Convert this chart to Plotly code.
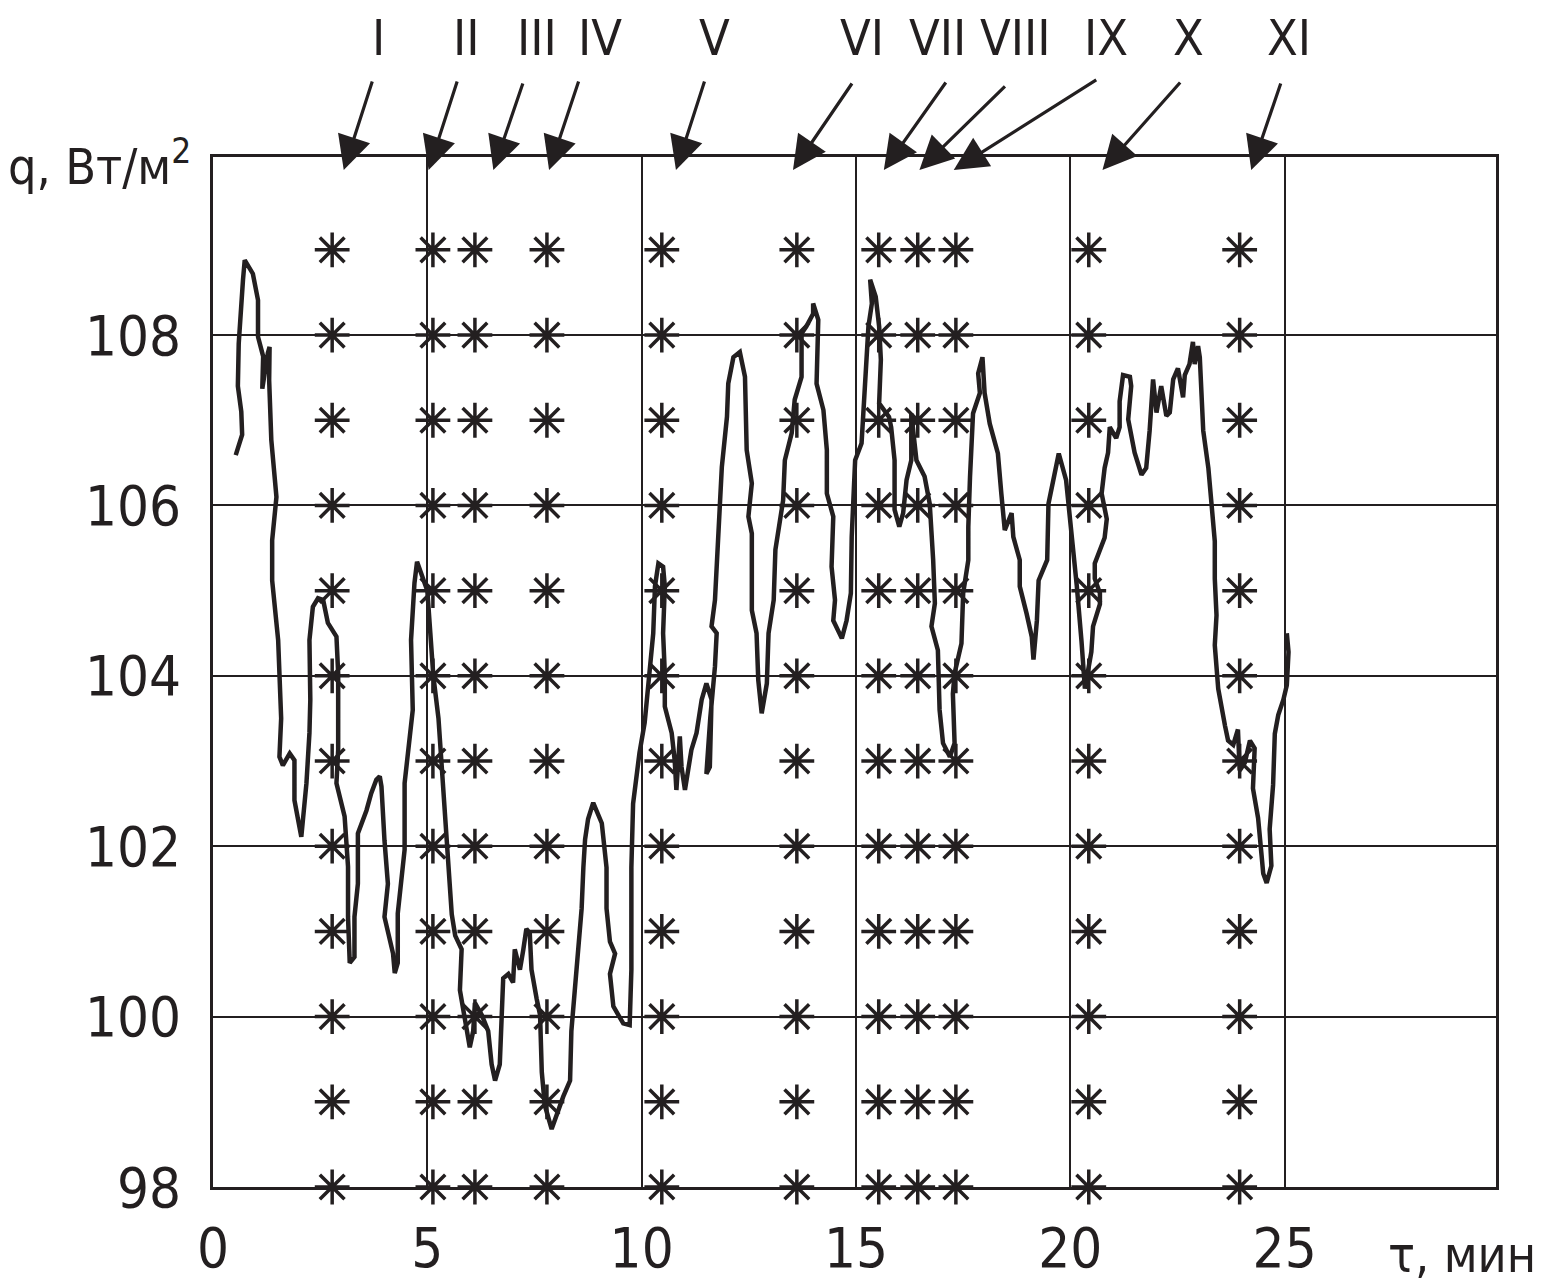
import plotly.graph_objects as go

INK = "#231f20"
FONT = "DejaVu Sans Condensed, Liberation Sans Narrow, Arial Narrow, sans-serif"

# heat-flux curve q(tau), tau in minutes, q in W/m2
tau = [0.53,0.68,0.66,0.58,0.60,0.64,0.70,0.74,0.93,1.05,1.05,1.17,1.15,1.28,1.32,1.31,1.36,1.48,1.38,1.38,1.52,1.59,1.55,1.63,1.79,1.90,1.90,2.06,2.18,2.25,2.27,2.25,2.33,2.45,2.57,2.68,2.88,2.92,2.92,2.88,3.07,3.15,3.15,3.19,3.30,3.30,3.38,3.38,3.58,3.69,3.81,3.89,3.93,4.00,4.08,4.00,4.20,4.24,4.31,4.31,4.47,4.47,4.59,4.66,4.62,4.70,4.76,4.86,5.00,5.07,5.14,5.26,5.33,5.41,5.48,5.57,5.65,5.80,5.76,5.88,5.99,6.07,6.11,6.27,6.42,6.50,6.58,6.69,6.73,6.77,6.89,7.00,7.04,7.16,7.24,7.31,7.39,7.43,7.55,7.63,7.67,7.74,7.90,8.09,8.17,8.33,8.36,8.44,8.52,8.60,8.64,8.68,8.75,8.87,9.07,9.18,9.18,9.26,9.38,9.26,9.34,9.57,9.72,9.76,9.76,9.80,9.95,10.07,10.15,10.27,10.31,10.39,10.50,10.54,10.50,10.54,10.54,10.70,10.77,10.81,10.89,10.93,11.01,11.16,11.28,11.40,11.51,11.63,11.59,11.51,11.60,11.71,11.75,11.63,11.71,11.79,11.87,11.99,12.02,12.14,12.29,12.41,12.45,12.57,12.49,12.57,12.57,12.68,12.72,12.80,12.92,12.96,13.08,13.12,13.30,13.34,13.50,13.57,13.73,13.73,13.84,14.00,14.00,14.12,14.08,14.24,14.32,14.32,14.47,14.43,14.51,14.47,14.67,14.78,14.88,14.90,14.94,14.98,15.13,15.21,15.29,15.37,15.33,15.46,15.54,15.58,15.54,15.77,15.82,15.90,15.90,16.01,16.10,16.18,16.29,16.29,16.33,16.41,16.60,16.72,16.80,16.84,16.76,16.91,16.95,17.03,17.19,17.30,17.26,17.30,17.46,17.50,17.62,17.62,17.66,17.73,17.89,17.85,17.95,18.00,18.12,18.31,18.39,18.47,18.63,18.67,18.82,18.82,18.98,19.10,19.14,19.22,19.26,19.46,19.49,19.61,19.73,19.90,20.04,20.15,20.26,20.34,20.49,20.53,20.69,20.69,20.57,20.57,20.80,20.85,20.73,20.80,20.88,20.92,21.07,21.15,21.15,21.23,21.39,21.42,21.35,21.50,21.66,21.77,21.85,21.93,22.01,22.12,22.24,22.32,22.40,22.51,22.63,22.67,22.78,22.86,22.90,22.98,23.02,23.06,23.10,23.22,23.29,23.37,23.37,23.41,23.37,23.45,23.61,23.68,23.80,23.91,23.95,24.07,24.19,24.30,24.26,24.38,24.46,24.50,24.58,24.69,24.65,24.73,24.77,24.85,24.97,25.05,25.09,25.05]
q = [106.59,106.83,107.10,107.40,107.90,108.30,108.65,108.88,108.72,108.41,107.98,107.75,107.37,107.79,107.86,107.47,106.77,106.10,105.59,105.12,104.42,103.50,103.05,102.95,103.09,103.01,102.54,102.11,102.74,103.33,103.72,104.42,104.81,104.91,104.89,104.62,104.46,104.03,103.13,102.74,102.35,101.76,101.17,100.63,100.70,101.17,101.56,102.15,102.42,102.62,102.78,102.82,102.70,102.07,101.56,101.17,100.74,100.51,100.63,101.21,101.96,102.74,103.33,103.60,104.42,105.09,105.34,105.20,105.00,104.50,104.00,103.50,103.00,102.30,101.80,101.20,100.95,100.79,100.31,99.92,99.64,99.83,100.16,100.02,99.83,99.44,99.25,99.44,100.07,100.45,100.50,100.40,100.79,100.55,100.79,101.03,100.98,100.55,100.21,100.02,99.35,98.96,98.68,98.96,99.06,99.25,99.83,100.31,100.79,101.27,101.75,102.08,102.32,102.51,102.27,101.75,101.27,100.88,100.74,100.50,100.12,99.92,99.90,100.55,101.75,102.50,103.10,103.45,103.87,104.50,105.05,105.32,105.28,105.05,104.50,104.03,103.64,103.33,103.01,102.66,103.29,102.93,102.66,103.13,103.33,103.72,103.91,103.72,102.93,102.85,103.50,104.11,104.50,104.58,104.89,105.67,106.45,107.04,107.43,107.74,107.80,107.51,106.65,106.26,105.87,105.67,104.77,104.50,103.95,103.56,103.91,104.50,104.89,105.48,106.06,106.53,106.85,107.24,107.51,108.02,108.10,108.25,108.37,108.18,107.43,107.12,106.65,106.14,105.87,105.28,104.89,104.65,104.44,104.65,104.97,105.63,106.14,106.53,106.73,107.32,108.10,108.37,108.65,108.45,108.10,107.71,107.20,107.04,106.92,106.53,105.95,105.75,105.91,106.30,106.53,107.08,106.92,106.53,106.34,106.02,105.36,104.85,104.58,104.30,103.60,103.21,103.05,103.21,103.79,104.03,104.38,104.97,105.36,105.75,106.34,107.08,107.32,107.55,107.74,107.32,106.96,106.61,106.14,105.71,105.91,105.63,105.36,105.05,104.73,104.46,104.19,104.65,105.12,105.36,106.02,106.34,106.61,106.30,105.66,105.06,104.41,103.85,104.28,104.58,104.84,104.97,105.14,105.32,105.62,105.84,106.14,106.44,106.62,106.92,106.79,106.92,107.22,107.53,107.51,107.40,107.01,106.62,106.36,106.44,106.88,107.48,107.09,107.40,107.05,107.09,107.48,107.61,107.27,107.53,107.66,107.92,107.66,107.87,107.74,107.31,106.88,106.44,106.01,105.58,105.14,104.71,104.36,103.85,103.41,103.24,103.19,103.37,102.89,102.98,103.24,103.15,102.68,102.33,101.90,101.68,101.57,101.77,102.20,102.72,103.32,103.54,103.72,103.89,104.28,104.50]

# asterisk columns (tau of marked moments) and rows (q levels)
mark_tau = [2.78, 5.13, 6.11, 7.79, 10.47, 13.62, 15.53, 16.44, 17.33, 20.43, 23.95]
mark_q = [98, 99, 100, 101, 102, 103, 104, 105, 106, 107, 108, 109]

# roman-numeral events: label, arrow tip tau
events = ["I", "II", "III", "IV", "V", "VI", "VII", "VIII", "IX", "X", "XI"]
event_tip_tau = [3.05, 5.03, 6.54, 7.84, 10.80, 13.53, 15.65, 16.48, 17.28, 20.75, 24.22]
event_label_tau = [3.85, 5.92, 7.56, 9.03, 11.71, 15.14, 16.89, 18.73, 20.83, 22.76, 25.10]
event_tail_dx = [29, 29, 30, 30, 29, 60, 63, 87, 144, 79, 30]
event_tail_dy = [-90, -90, -88, -90, -90, -88, -89, -85, -91, -89, -88]

x_ticks = [0, 5, 10, 15, 20, 25]
y_ticks = [98, 100, 102, 104, 106, 108]

fig = go.Figure()

mx, my = [], []
for t in mark_tau:
    for v in mark_q:
        mx.append(t)
        my.append(v)
fig.add_trace(go.Scatter(
    x=mx, y=my, mode="markers", cliponaxis=False, hoverinfo="skip",
    marker=dict(symbol="asterisk", size=29, line=dict(width=3.5, color=INK), color=INK),
))
fig.add_trace(go.Scatter(
    x=tau, y=q, mode="lines", line=dict(color=INK, width=4.5), cliponaxis=False,
))

annotations = []
for lab, tip, ltx, dx, dy in zip(events, event_tip_tau, event_label_tau, event_tail_dx, event_tail_dy):
    annotations.append(dict(
        x=tip, y=0.9874, xref="x", yref="paper", text="", showarrow=True,
        ax=dx, ay=dy, axref="pixel", ayref="pixel",
        arrowhead=2, arrowsize=2.1, arrowwidth=3.2, arrowcolor=INK,
    ))
    annotations.append(dict(
        x=ltx, y=1.116, xref="x", yref="paper", text=lab, showarrow=False,
        xanchor="center", yanchor="middle", font=dict(family=FONT, size=50, color=INK),
    ))

annotations.append(dict(
    x=-0.0156, y=0.9935, xref="paper", yref="paper", text="q, Вт/м<sup>2</sup>",
    showarrow=False, xanchor="right", yanchor="middle",
    font=dict(family=FONT, size=50, color=INK),
))
annotations.append(dict(
    x=0.914, y=-0.066, xref="paper", yref="paper", text="τ, мин",
    showarrow=False, xanchor="left", yanchor="middle",
    font=dict(family=FONT, size=50, color=INK),
))

# the page adds an 8px body margin, so the figure is 8px smaller on each axis
fig.update_layout(
    width=1534, height=1276,
    margin=dict(l=205, r=46, t=149, b=97, autoexpand=False),
    paper_bgcolor="white", plot_bgcolor="white",
    showlegend=False,
    annotations=annotations,
    font=dict(family=FONT, size=56, color=INK),
)
fig.update_xaxes(
    range=[0, 29.93], tickvals=x_ticks, showgrid=True, gridcolor=INK, gridwidth=2,
    showline=True, linecolor=INK, linewidth=2.5, mirror=True, zeroline=False, automargin=False,
    ticks="", ticklabelstandoff=10, tickfont=dict(family=FONT, size=56, color=INK),
)
fig.update_yaxes(
    range=[98, 110.09], tickvals=y_ticks, showgrid=True, gridcolor=INK, gridwidth=2,
    showline=True, linecolor=INK, linewidth=2.5, mirror=True, zeroline=False, automargin=False,
    ticks="", ticklabelstandoff=18, tickfont=dict(family=FONT, size=56, color=INK),
)

fig.write_html("out.html")
